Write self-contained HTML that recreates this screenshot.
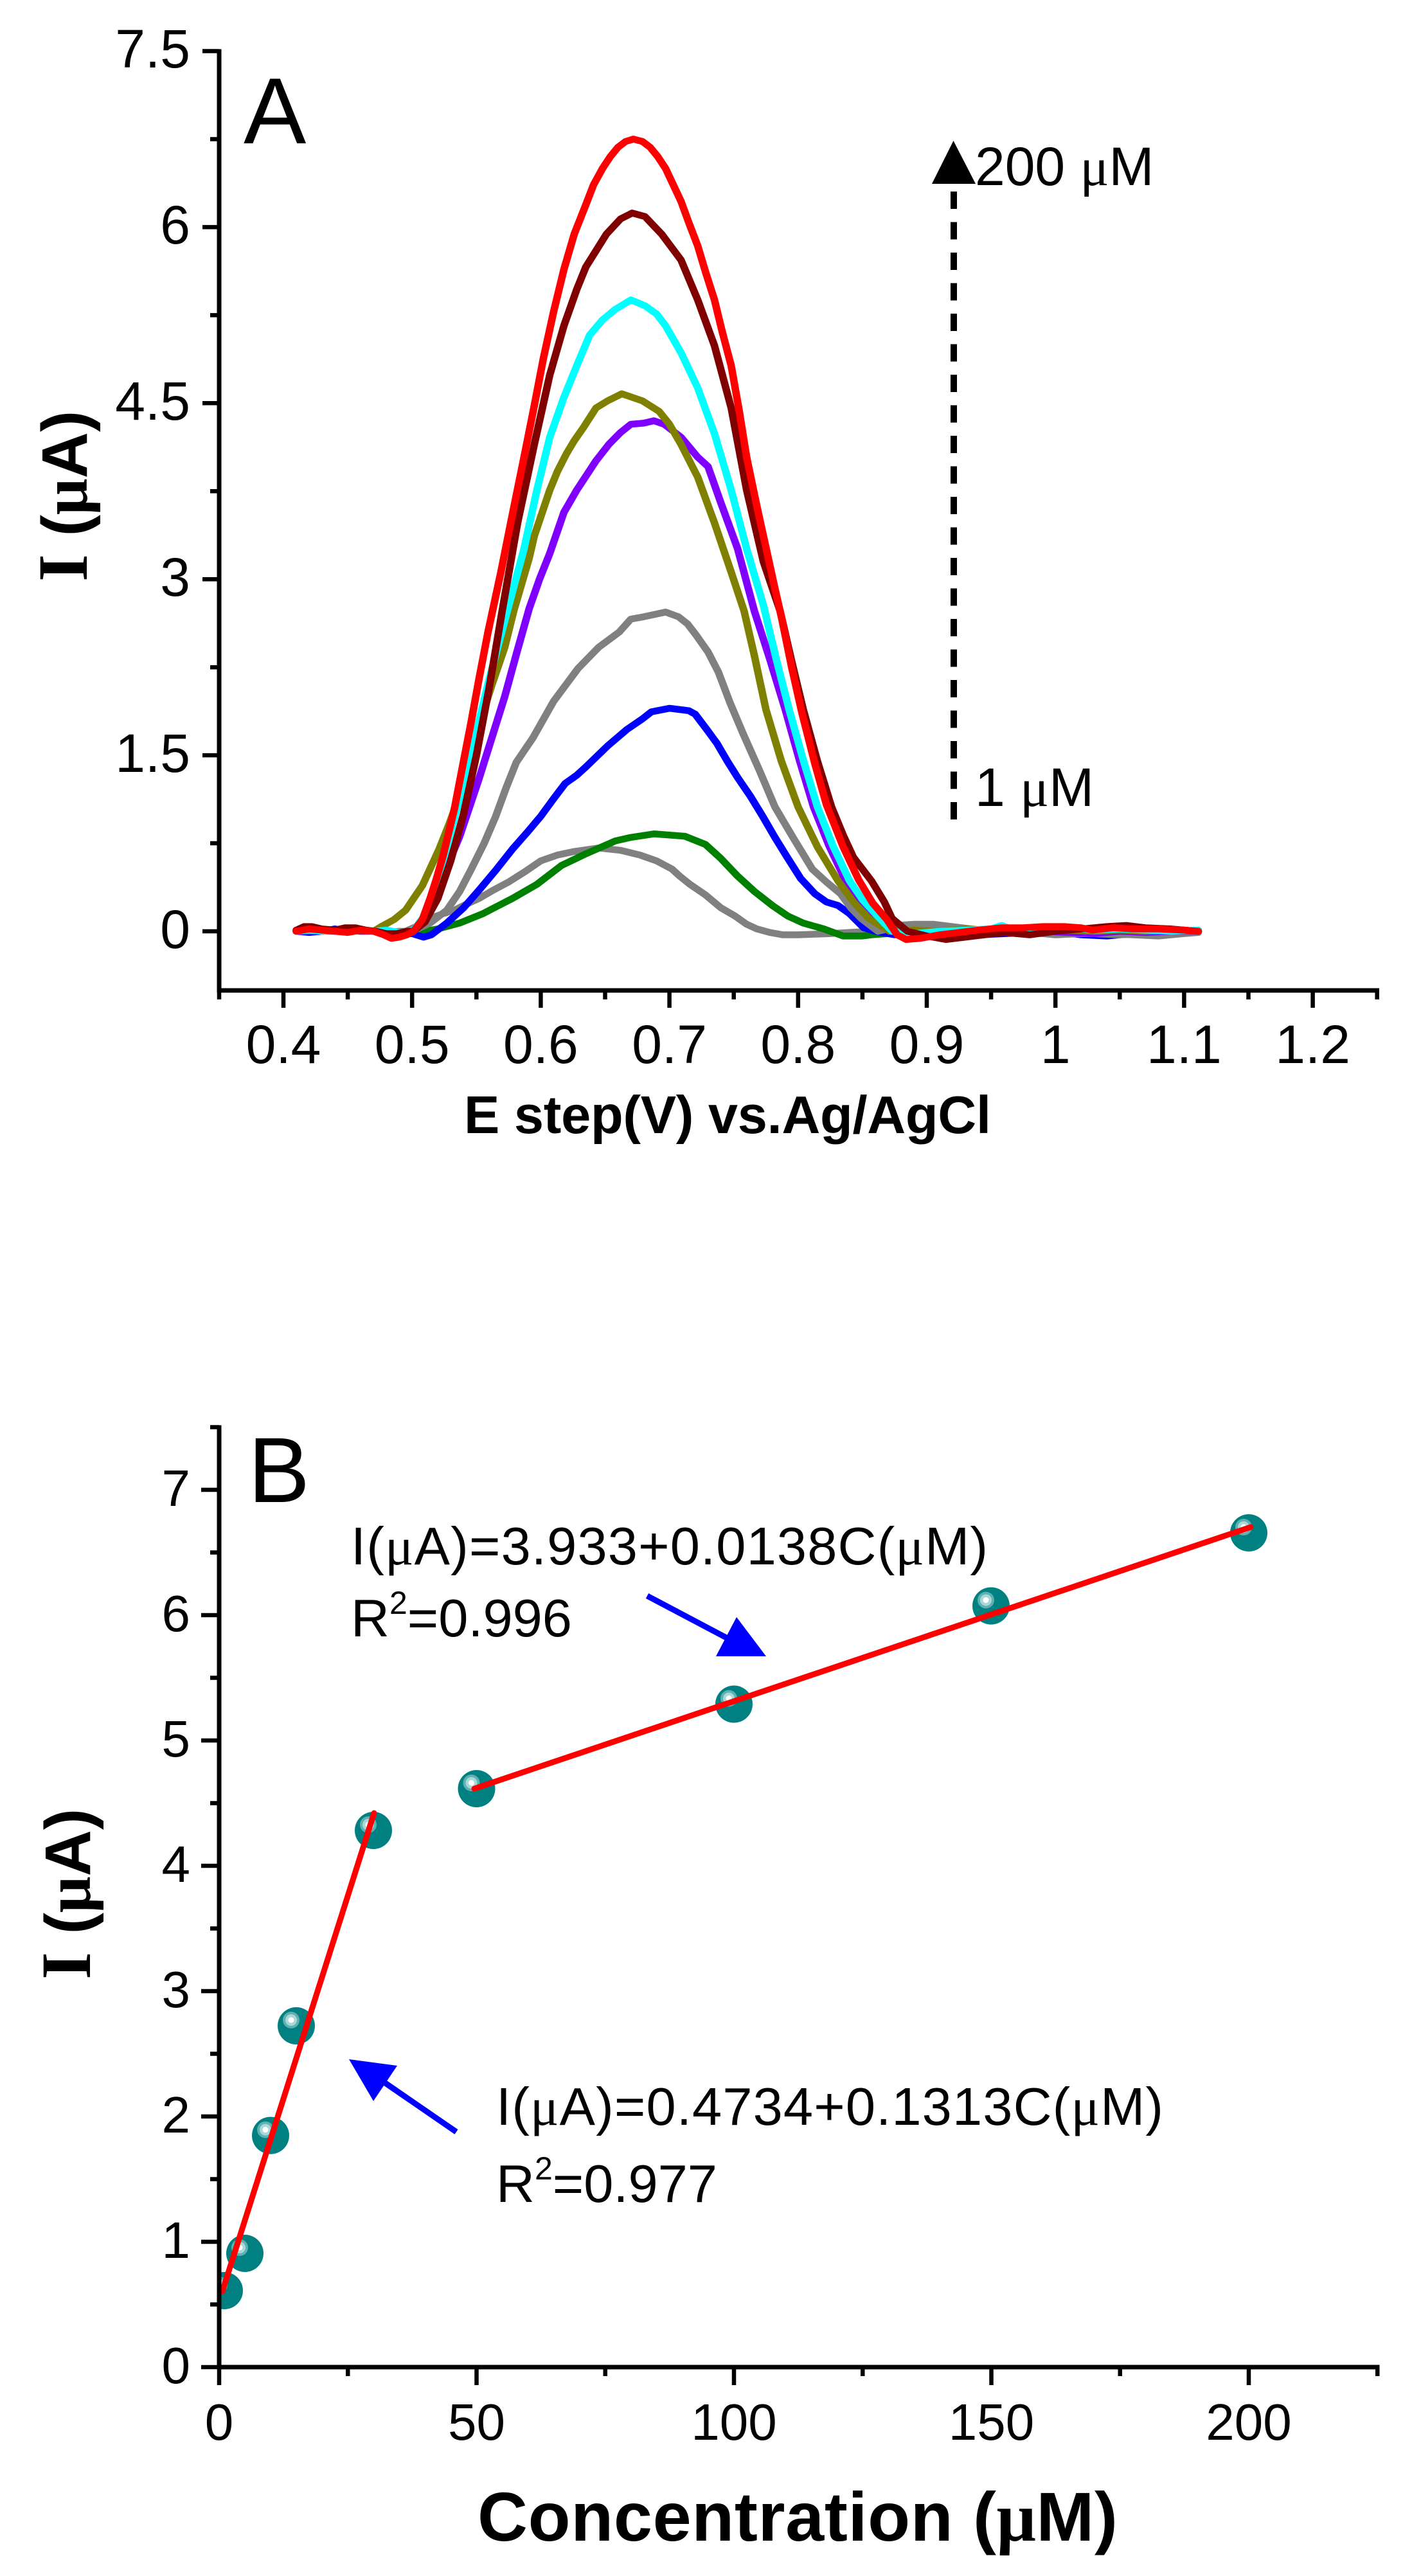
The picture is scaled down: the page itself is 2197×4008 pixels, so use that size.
<!DOCTYPE html>
<html>
<head>
<meta charset="utf-8">
<style>
html,body{margin:0;padding:0;background:#fff;}
svg{display:block;}
text{font-family:"Liberation Sans",Arial,sans-serif;fill:#000;}
.s{font-family:"Liberation Serif","Times New Roman",serif;}
</style>
</head>
<body>
<svg xmlns="http://www.w3.org/2000/svg" width="2197" height="4008" viewBox="0 0 2197 4008">
<rect x="0" y="0" width="2197" height="4008" fill="#fff"/>

<!-- ================= PANEL A ================= -->
<g transform="matrix(2.002,0,0,-1.826,441,1449)" fill="none" stroke-width="5.8" stroke-linejoin="round" stroke-linecap="round">
<polyline stroke="#808080" points="95,0 105,5 114,11 124,15 133,18 142,23 152,28 163,35 175,42 188,51 200,60 213,65 226,68 245,71 262,69 277,65 290,60 302,53 308,47 316,40 328,31 340,20 351,13 360,6 368,2 378,-1 388,-3 400,-3 424,-2 440,-1 457,0 480,1 500,0 520,-1 540,-1 560,0 580,-1 600,-3 620,-2 640,-2 660,-3 680,-4 700,-2 711,-1"/>
<polyline stroke="#008000" points="100,-1 110,0 120,2 137,7 155,15 178,28 197,40 216,56 235,66 258,77 270,80 288,83 300,82 312,81 328,74 340,62 353,47 366,34 380,22 392,13 404,7 420,2 435,-4 450,-4 457,-3 470,-2 490,0 510,-1 530,0 550,1 570,0 590,1 610,0 630,0 650,1 670,0 690,0 711,0"/>
<polyline stroke="#0000ff" points="10,0 20,-1 30,0 40,2 50,0 60,1 70,0 80,-1 90,-2 100,-2 109,-5 115,-3 127,7 140,20 152,35 165,52 178,70 190,85 200,98 210,113 219,126 228,133 235,140 252,158 267,172 279,181 286,187 300,190 315,188 320,185 329,172 337,160 345,145 353,131 363,115 373,97 382,80 391,64 402,45 413,32 422,25 431,22 440,15 451,3 460,0 475,-3 490,-1 505,-2 520,-4 540,-3 560,-2 580,-1 600,0 620,-3 640,-4 660,-2 680,0 700,1 711,0"/>
<polyline stroke="#808080" points="10,0 20,1 30,0 40,0 50,1 60,0 70,0 80,-1 90,0 100,0 114,7 127,18 137,34 146,53 156,75 165,98 173,122 181,144 194,165 210,196 229,224 245,242 261,255 270,266 280,268 297,272 307,268 314,262 321,252 330,238 338,221 347,195 357,169 370,137 382,106 396,80 411,53 422,42 433,32 441,20 449,11 462,0 470,2 477,5 490,6 505,6 520,4 535,2 550,0 570,-1 590,0 610,-2 630,-2 650,-3 670,-2 690,-1 711,0"/>
<polyline stroke="#8000ff" points="10,0 20,0 30,1 40,0 50,1 60,0 70,0 80,-1 90,-2 100,0 108,7 121,39 137,81 152,130 162,165 172,200 182,240 191,275 199,300 207,322 218,357 228,376 243,401 253,415 262,425 270,432 280,433 288,435 296,432 309,421 322,404 330,396 340,365 353,326 366,273 378,232 390,189 401,146 412,106 424,73 437,43 448,27 458,15 471,0 490,-2 510,-3 530,-1 550,0 570,-2 590,0 610,-1 630,-2 650,0 670,-1 690,0 711,0"/>
<polyline stroke="#808000" points="10,0 20,1 30,0 40,1 50,0 60,1 70,0 76,4 86,10 95,18 108,39 121,70 129,92 137,116 145,145 152,175 162,210 172,242 179,273 191,318 195,337 207,376 213,392 220,407 226,418 233,429 243,446 252,452 263,458 279,452 292,443 300,432 309,415 322,387 335,348 348,306 358,273 366,235 375,189 387,145 400,106 415,72 431,43 443,25 455,11 471,0 490,1 510,0 530,2 550,1 570,2 590,0 610,1 630,0 650,1 670,0 690,1 711,0"/>
<polyline stroke="#00ffff" points="10,0 20,1 30,0 40,1 50,0 60,1 70,0 80,1 90,-1 97,-1 102,2 110,14 118,38 126,68 133,97 140,125 150,170 160,215 174,273 187,326 197,376 207,421 218,455 228,482 238,508 248,521 258,530 270,538 281,533 290,526 297,516 309,493 322,463 335,424 348,376 360,326 373,278 383,232 393,189 404,146 415,106 427,73 440,43 450,27 460,15 473,0 490,-2 510,0 530,1 550,2 558,5 566,2 580,0 590,2 610,3 630,1 650,2 670,1 690,0 711,1"/>
<polyline stroke="#800000" points="10,1 16,4 22,4 30,2 40,1 48,3 56,3 64,1 72,0 80,-2 88,-2 96,0 101,0 110,8 120,28 130,60 140,100 150,150 160,208 170,273 182,348 195,415 207,474 218,516 228,547 235,566 251,594 262,607 271,612 281,609 294,594 309,572 322,538 335,499 348,446 360,376 373,315 386,273 395,230 404,189 415,145 426,106 435,82 443,63 457,43 467,25 473,11 485,0 500,-4 515,-7 530,-5 545,-3 560,-1 580,-3 600,0 620,2 640,4 655,5 670,3 690,2 711,0"/>
<polyline stroke="#ff0000" points="10,0 20,2 30,1 40,0 50,-1 60,1 70,0 78,-3 84,-6 90,-5 96,-3 101,0 108,10 114,28 119,45 124,64 133,105 140,145 146,179 152,215 159,255 169,306 177,350 187,404 195,448 202,488 210,528 218,564 226,594 235,619 241,636 248,650 254,660 260,668 266,673 272,675 279,673 285,668 291,660 297,650 303,636 309,622 315,604 322,584 328,562 335,538 341,511 348,482 354,445 360,404 368,362 376,322 382,292 387,268 395,225 403,186 413,143 422,108 435,72 447,44 458,24 469,10 477,-3 484,-7 495,-6 510,-3 525,-1 540,1 558,3 575,3 590,4 607,4 620,3 629,1 645,3 660,2 680,2 700,1 711,0"/>
</g>

<!-- Axes A -->
<path d="M341 76.5V1541H2146" fill="none" stroke="#000" stroke-width="7"/>
<path d="M315 1449H341M315 1175.1H341M315 901.2H341M315 627.3H341M315 353.4H341M315 79.5H341
M327 1312H341M327 1038.2H341M327 764.3H341M327 490.4H341M327 216.5H341
M441 1541V1568M641.2 1541V1568M841.4 1541V1568M1041.6 1541V1568M1241.8 1541V1568M1442 1541V1568M1642.2 1541V1568M1842.4 1541V1568M2042.6 1541V1568
M341 1541V1555M541.1 1541V1555M741.3 1541V1555M941.5 1541V1555M1141.7 1541V1555M1341.9 1541V1555M1542.1 1541V1555M1742.3 1541V1555M1942.5 1541V1555M2142.7 1541V1555" fill="none" stroke="#000" stroke-width="6.5"/>

<g font-size="84" text-anchor="end">
<text x="296" y="1475">0</text>
<text x="296" y="1201">1.5</text>
<text x="296" y="927">3</text>
<text x="296" y="653">4.5</text>
<text x="296" y="379">6</text>
<text x="296" y="105">7.5</text>
</g>
<g font-size="84" text-anchor="middle">
<text x="441" y="1654">0.4</text>
<text x="641.2" y="1654">0.5</text>
<text x="841.4" y="1654">0.6</text>
<text x="1041.6" y="1654">0.7</text>
<text x="1241.8" y="1654">0.8</text>
<text x="1442" y="1654">0.9</text>
<text x="1642.2" y="1654">1</text>
<text x="1842.4" y="1654">1.1</text>
<text x="2042.6" y="1654">1.2</text>
</g>

<text x="722" y="1763" font-size="83" font-weight="bold" textLength="820">E step(V) vs.Ag/AgCl</text>
<text transform="translate(135,905) rotate(-90)" font-size="100" font-weight="bold"><tspan class="s" font-size="110">I</tspan> (<tspan class="s">μ</tspan>A)</text>

<text x="379" y="223" font-size="146">A</text>

<!-- annotation arrow A -->
<polygon points="1450,286 1518,286 1483.5,219" fill="#000"/>
<line x1="1484" y1="298" x2="1484" y2="1276" stroke="#000" stroke-width="10" stroke-dasharray="27 20.5"/>
<text x="1517" y="288" font-size="84">200 <tspan class="s">μ</tspan>M</text>
<text x="1517" y="1254" font-size="84">1 <tspan class="s">μ</tspan>M</text>

<!-- ================= PANEL B ================= -->
<defs>
<clipPath id="cpB"><rect x="341" y="2150" width="1900" height="1533"/></clipPath>
<g id="mk">
<circle cx="0" cy="0" r="29" fill="#008080"/>
<circle cx="-8" cy="-9" r="13" fill="#5fb0b0"/>
<circle cx="-8" cy="-9" r="9" fill="#a8d8d8"/>
<circle cx="-8" cy="-9" r="4.5" fill="#ffffff"/>
</g>
</defs>

<g clip-path="url(#cpB)">
<use href="#mk" x="349" y="3564"/>
<use href="#mk" x="381" y="3506"/>
<use href="#mk" x="421" y="3322.6"/>
<use href="#mk" x="461" y="3152"/>
<use href="#mk" x="581" y="2848"/>
<use href="#mk" x="741.5" y="2783"/>
<use href="#mk" x="1142" y="2651.5"/>
<use href="#mk" x="1542" y="2498.6"/>
<use href="#mk" x="1943" y="2385"/>
</g>

<line x1="346" y1="3565" x2="582" y2="2821" stroke="#ff0000" stroke-width="9" stroke-linecap="round"/>
<line x1="738" y1="2783" x2="1946" y2="2376" stroke="#ff0000" stroke-width="9" stroke-linecap="round"/>

<!-- Axes B -->
<path d="M341 2217.5V3683H2146.5" fill="none" stroke="#000" stroke-width="7"/>
<path d="M313 3683H341M313 3488H341M313 3293H341M313 3098H341M313 2903H341M313 2708H341M313 2513H341M313 2318H341
M327 3585.5H341M327 3390.5H341M327 3195.5H341M327 3000.5H341M327 2805.5H341M327 2610.5H341M327 2415.5H341M327 2220.5H341
M341 3683V3711M741.5 3683V3711M1142 3683V3711M1542.5 3683V3711M1943 3683V3711
M541.25 3683V3697M941.75 3683V3697M1342.25 3683V3697M1742.75 3683V3697M2143.25 3683V3697" fill="none" stroke="#000" stroke-width="6.5"/>

<g font-size="80" text-anchor="end">
<text x="296" y="3708">0</text>
<text x="296" y="3513">1</text>
<text x="296" y="3318">2</text>
<text x="296" y="3123">3</text>
<text x="296" y="2928">4</text>
<text x="296" y="2733">5</text>
<text x="296" y="2538">6</text>
<text x="296" y="2343">7</text>
</g>
<g font-size="80" text-anchor="middle">
<text x="341" y="3796">0</text>
<text x="741.5" y="3796">50</text>
<text x="1142" y="3796">100</text>
<text x="1542.5" y="3796">150</text>
<text x="1943" y="3796">200</text>
</g>

<text x="743" y="3953" font-size="108" font-weight="bold" textLength="996">Concentration (<tspan class="s">μ</tspan>M)</text>
<text transform="translate(140,3080) rotate(-90)" font-size="100" font-weight="bold"><tspan class="s" font-size="110">I</tspan> (<tspan class="s">μ</tspan>A)</text>

<text x="386" y="2337" font-size="144">B</text>

<!-- equations -->
<text x="546" y="2434" font-size="83" textLength="991">I(<tspan class="s">μ</tspan>A)=3.933+0.0138C(<tspan class="s">μ</tspan>M)</text>
<text x="546" y="2546" font-size="83">R<tspan font-size="50" dy="-35">2</tspan><tspan dy="35">=0.996</tspan></text>

<text x="772" y="3306" font-size="83" textLength="1038">I(<tspan class="s">μ</tspan>A)=0.4734+0.1313C(<tspan class="s">μ</tspan>M)</text>
<text x="772" y="3426" font-size="83">R<tspan font-size="50" dy="-35">2</tspan><tspan dy="35">=0.977</tspan></text>

<!-- blue arrows -->
<line x1="1007" y1="2483" x2="1130" y2="2548" stroke="#0000ff" stroke-width="9"/>
<polygon points="1114,2577 1192,2577 1146,2516" fill="#0000ff"/>
<line x1="710" y1="3317" x2="598" y2="3240" stroke="#0000ff" stroke-width="9"/>
<polygon points="543,3204 618,3214 581,3269" fill="#0000ff"/>

</svg>
</body>
</html>
